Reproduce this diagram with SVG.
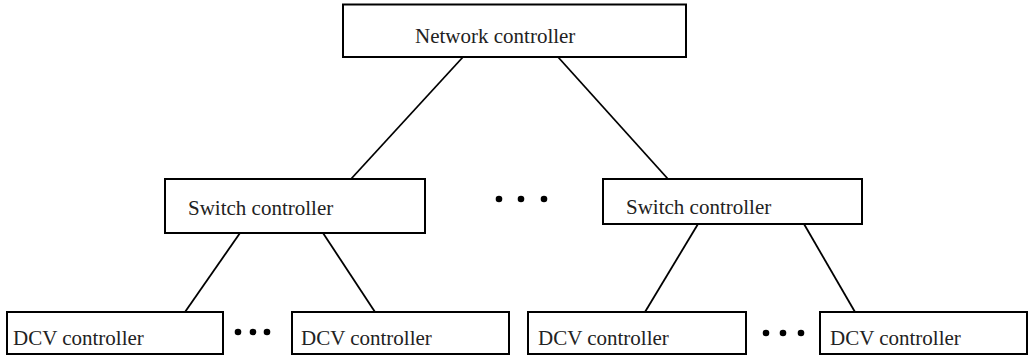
<svg xmlns="http://www.w3.org/2000/svg" width="1029" height="356" viewBox="0 0 1029 356">
<style>
.box{fill:#fff;stroke:#000;stroke-width:2}
.lbl{font-family:"Liberation Serif","Times New Roman",serif;font-size:21px;fill:#222}
.conn line{stroke:#000;stroke-width:1.8}
.dot{fill:#000}
</style>
<rect width="1029" height="356" fill="#fff"/>
<g id="connectors" class="conn">
<line x1="463" y1="57" x2="351" y2="179"/>
<line x1="558" y1="57" x2="668" y2="179"/>
<line x1="240" y1="233" x2="185" y2="312"/>
<line x1="323" y1="233" x2="375" y2="312"/>
<line x1="698" y1="224" x2="645" y2="312"/>
<line x1="804" y1="224" x2="855" y2="312"/>
</g>
<g id="network-controller">
<rect class="box" x="343" y="4.5" width="343" height="52.5"/>
<text class="lbl" x="415" y="43">Network controller</text>
</g>
<g id="switch-controller-1">
<rect class="box" x="165" y="179" width="260" height="54"/>
<text class="lbl" x="188" y="215">Switch controller</text>
</g>
<g id="switch-controller-2">
<rect class="box" x="603" y="179" width="259" height="45"/>
<text class="lbl" x="626" y="214">Switch controller</text>
</g>
<g id="dcv-controller-1">
<rect class="box" x="7" y="312" width="216" height="42"/>
<text class="lbl" x="13" y="345">DCV controller</text>
</g>
<g id="dcv-controller-2">
<rect class="box" x="292" y="312" width="217" height="42"/>
<text class="lbl" x="301" y="345">DCV controller</text>
</g>
<g id="dcv-controller-3">
<rect class="box" x="528" y="312" width="218" height="42"/>
<text class="lbl" x="538" y="345">DCV controller</text>
</g>
<g id="dcv-controller-4">
<rect class="box" x="820" y="312" width="207" height="42"/>
<text class="lbl" x="830" y="345">DCV controller</text>
</g>
<g id="ellipsis-middle">
<circle class="dot" cx="499" cy="199" r="3.3"/>
<circle class="dot" cx="521" cy="199" r="3.3"/>
<circle class="dot" cx="544" cy="199" r="3.3"/>
</g>
<g id="ellipsis-left">
<circle class="dot" cx="238" cy="332" r="3.3"/>
<circle class="dot" cx="253" cy="332" r="3.3"/>
<circle class="dot" cx="267" cy="332" r="3.3"/>
</g>
<g id="ellipsis-right">
<circle class="dot" cx="766" cy="333" r="3.3"/>
<circle class="dot" cx="783" cy="333" r="3.3"/>
<circle class="dot" cx="801" cy="333" r="3.3"/>
</g>
</svg>
